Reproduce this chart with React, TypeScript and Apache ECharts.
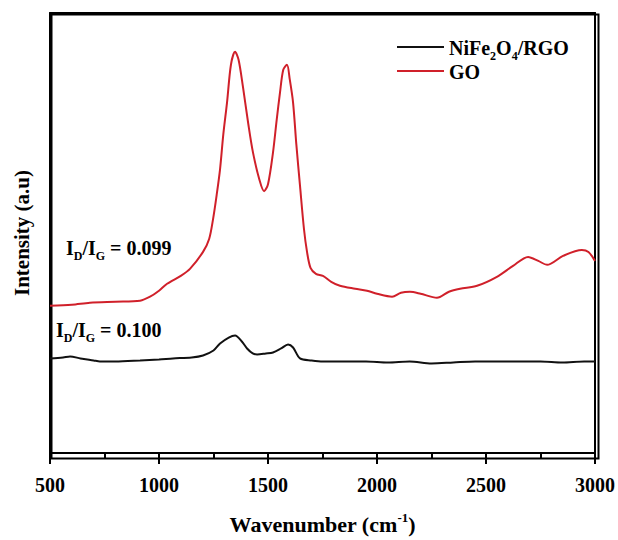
import React, { useEffect, useRef } from "react";
import * as echarts from "echarts";

const goX = [500, 600, 683, 800, 913, 959, 1000, 1037, 1100, 1142, 1202, 1230, 1248, 1265, 1280, 1295, 1312, 1330, 1349, 1365, 1385, 1410, 1431, 1460, 1482, 1500, 1523, 1540, 1555, 1570, 1587, 1600, 1615, 1630, 1647, 1665, 1679, 1695, 1720, 1752, 1790, 1830, 1900, 1954, 2000, 2069, 2110, 2151, 2200, 2275, 2330, 2381, 2459, 2550, 2624, 2693, 2740, 2780, 2853, 2940, 2970, 3000];
const goY = [148, 149, 151, 152, 153, 157, 163, 170, 178, 185, 202, 215, 235, 260, 285, 320, 352, 390, 403, 395, 368, 330, 302, 275, 263, 270, 302, 335, 362, 385, 390, 375, 352, 310, 268, 225, 202, 186, 180, 178, 172, 168, 165, 163, 160, 157, 161, 162, 160, 156, 162, 165, 168, 177, 188, 197, 193, 189, 198, 204, 202, 193];

const rgoX = [500, 560, 592, 640, 700, 729, 800, 913, 1000, 1064, 1150, 1202, 1250, 1280, 1320, 1349, 1380, 1404, 1430, 1450, 1490, 1523, 1560, 1592, 1615, 1647, 1700, 1752, 1850, 1950, 2050, 2150, 2250, 2350, 2450, 2550, 2650, 2750, 2850, 2950, 3000];
const rgoY = [95, 96, 97, 95, 93, 92, 92, 93, 94, 95, 96, 98, 103, 110, 116, 118, 112, 105, 100, 99, 100, 101, 105, 109, 106, 95, 93, 92, 92, 92, 91, 92, 90, 91, 92, 92, 92, 92, 91, 92, 92];

const xTicks = [500, 1000, 1500, 2000, 2500, 3000];
const yRange = [0, 442];
const seriesNames = ["NiFe2O4/RGO", "GO"];
const ratioLabels = ["0.099", "0.100"];

const FONT = "'Liberation Serif', 'Times New Roman', serif";

export default function App() {
  const ref = useRef<HTMLDivElement>(null);
  useEffect(() => {
    if (!ref.current) return;
    const chart = echarts.init(ref.current, undefined, { renderer: "svg" });
    const base = { fontFamily: FONT, fontWeight: "bold" as const, color: "#000" };
    const ratioRich = {
      b: { ...base, fontSize: 20, lineHeight: 22, verticalAlign: "bottom" },
      s: { ...base, fontSize: 12, lineHeight: 12, verticalAlign: "bottom", padding: [0, 0, -4, 0] },
    };
    const xMin = xTicks[0];
    const xMax = xTicks[xTicks.length - 1];
    const frame = { show: true, onZero: false, lineStyle: { color: "#000", width: 2 } };
    chart.setOption({
      animation: false,
      backgroundColor: "#fff",
      grid: { left: 50, right: 23, top: 13, bottom: 85 },
      legend: {
        data: seriesNames,
        orient: "vertical",
        left: 392,
        top: 33,
        itemWidth: 47,
        itemHeight: 2,
        itemGap: 0,
        icon: "rect",
        formatter: (n: string) => (n === "GO" ? "{b|GO}" : "{b|NiFe}{s|2}{b|O}{s|4}{b|/RGO}"),
        textStyle: { ...base, rich: ratioRich },
      },
      xAxis: [
        {
          type: "value",
          min: xMin,
          max: xMax,
          interval: 500,
          name: "{t|Wavenumber (cm}{sup|-1}{t|)}",
          nameLocation: "middle",
          nameGap: 58,
          nameTextStyle: {
            rich: {
              t: { ...base, fontSize: 22, lineHeight: 26, verticalAlign: "middle" },
              sup: { ...base, fontSize: 13, lineHeight: 13, verticalAlign: "top" },
            },
          },
          axisLine: frame,
          axisTick: { show: true, inside: false, length: 11, lineStyle: { color: "#000", width: 2 } },
          minorTick: { show: true, splitNumber: 2, length: 6, lineStyle: { color: "#000", width: 2 } },
          axisLabel: { ...base, fontSize: 20, margin: 22, formatter: (v: number) => String(v) },
          splitLine: { show: false },
        },
        {
          type: "value",
          position: "top",
          min: xMin,
          max: xMax,
          axisLine: frame,
          axisTick: { show: false },
          axisLabel: { show: false },
          splitLine: { show: false },
        },
      ],
      yAxis: [
        {
          type: "value",
          min: yRange[0],
          max: yRange[1],
          name: "Intensity (a.u)",
          nameLocation: "middle",
          nameGap: 18,
          nameTextStyle: { ...base, fontSize: 21 },
          axisLine: frame,
          axisTick: { show: false },
          axisLabel: { show: false },
          splitLine: { show: false },
        },
        {
          type: "value",
          position: "right",
          min: yRange[0],
          max: yRange[1],
          axisLine: frame,
          axisTick: { show: false },
          axisLabel: { show: false },
          splitLine: { show: false },
        },
      ],
      series: [
        {
          name: seriesNames[0],
          type: "line",
          smooth: 0.3,
          showSymbol: false,
          data: rgoX.map((x, i) => [x, rgoY[i]]),
          lineStyle: { color: "#111", width: 2 },
          itemStyle: { color: "#111" },
        },
        {
          name: seriesNames[1],
          type: "line",
          smooth: 0.3,
          showSymbol: false,
          data: goX.map((x, i) => [x, goY[i]]),
          lineStyle: { color: "#d0202a", width: 2 },
          itemStyle: { color: "#d0202a" },
        },
      ],
      graphic: [
        {
          type: "rect",
          left: 49,
          top: 12,
          shape: { width: 547, height: 444 },
          style: { stroke: "#000", lineWidth: 2, fill: "none" },
          silent: true,
        },
        {
          type: "text",
          left: 66,
          top: 238,
          style: { text: `{b|I}{s|D}{b|/I}{s|G}{b| = ${ratioLabels[0]}}`, rich: ratioRich },
        },
        {
          type: "text",
          left: 56,
          top: 320,
          style: { text: `{b|I}{s|D}{b|/I}{s|G}{b| = ${ratioLabels[1]}}`, rich: ratioRich },
        },
      ],
    });
    return () => chart.dispose();
  }, []);
  return <div ref={ref} style={{ position: "fixed", left: 0, top: 0, width: 618, height: 540 }} />;
}
